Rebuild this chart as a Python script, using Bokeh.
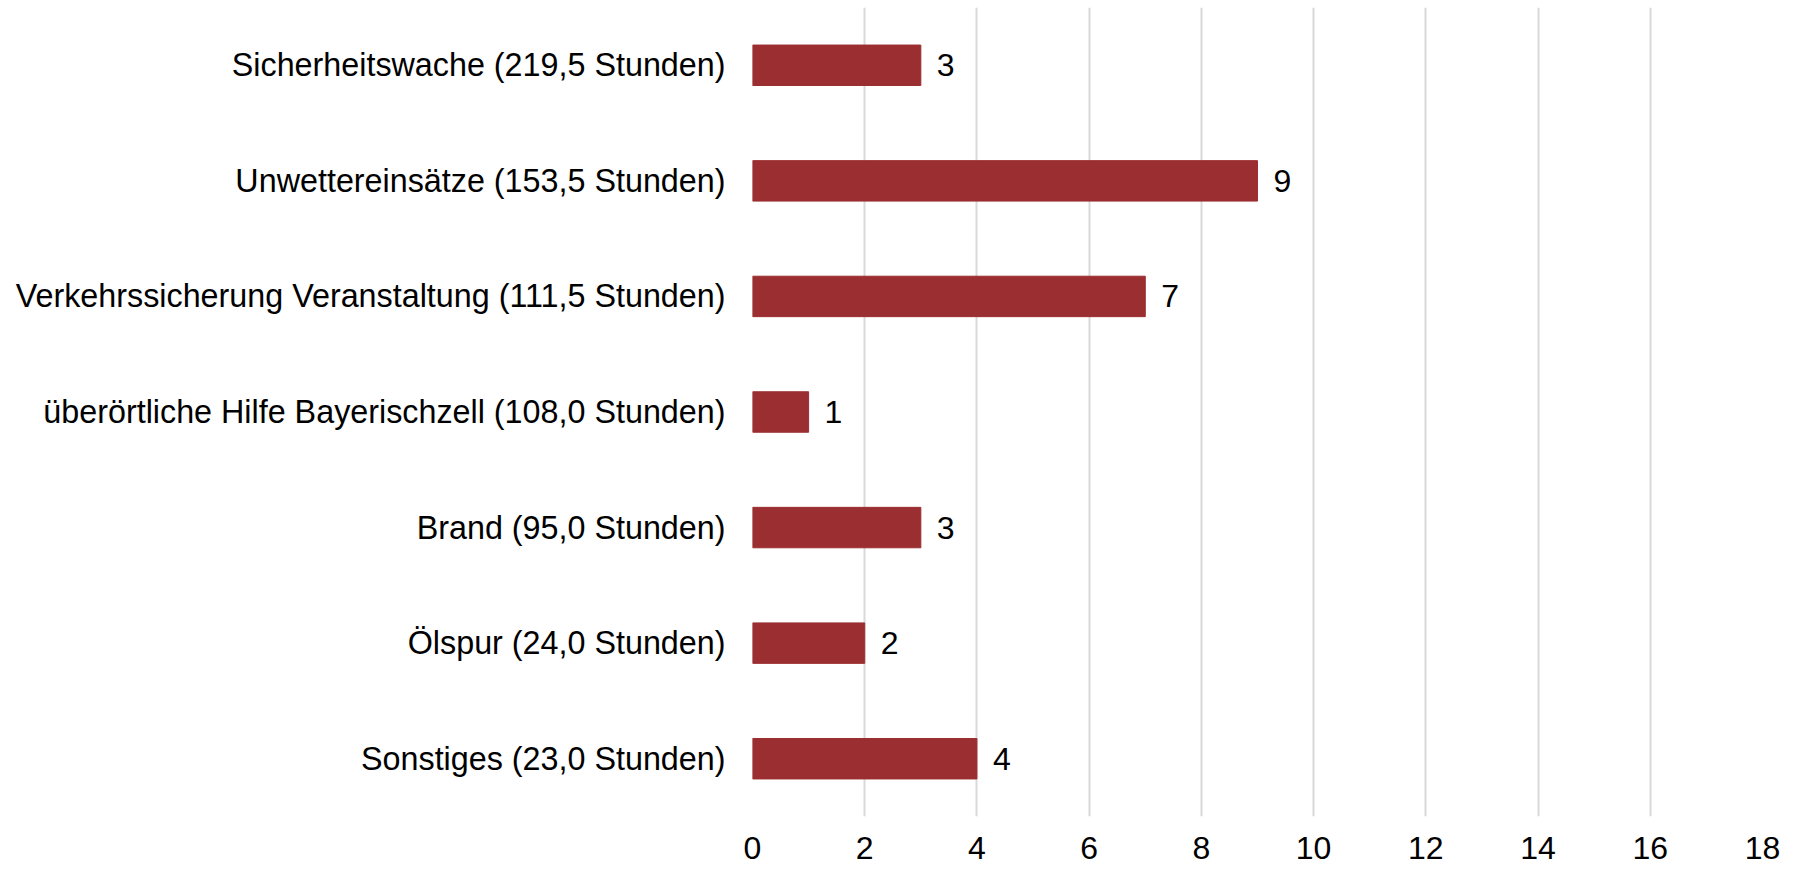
from bokeh.plotting import figure
from bokeh.models import ColumnDataSource, FactorRange, Range1d, FixedTicker
from bokeh.core.properties import value
from bokeh.embed import file_html
from bokeh.resources import INLINE

categories = [
    "Sicherheitswache (219,5 Stunden)",
    "Unwettereinsätze (153,5 Stunden)",
    "Verkehrssicherung Veranstaltung (111,5 Stunden)",
    "überörtliche Hilfe Bayerischzell (108,0 Stunden)",
    "Brand (95,0 Stunden)",
    "Ölspur (24,0 Stunden)",
    "Sonstiges (23,0 Stunden)",
]
counts = [3, 9, 7, 1, 3, 2, 4]
x_ticks = [0, 2, 4, 6, 8, 10, 12, 14, 16, 18]

FONT = "Liberation Sans"
FS = "32px"
src = ColumnDataSource(dict(cat=categories, n=counts, lbl=[str(v) for v in counts]))

p = figure(
    width=1799, height=869,
    y_range=FactorRange(*list(reversed(categories)), range_padding=0),
    x_range=Range1d(0, 18),
    output_backend="svg", toolbar_location=None,
    min_border_left=752, min_border_right=37, min_border_top=7, min_border_bottom=53,
)
p.y_range.factor_padding = 0
p.hbar(y="cat", right="n", left=0, height=0.35, source=src, color="#9b2e31")
p.text(x="n", y="cat", text="lbl", source=src, x_offset=16,
       text_baseline="middle", text_align="left",
       text_font=value(FONT), text_font_size=FS, text_color="#000000")

p.outline_line_color = None
p.ygrid.grid_line_color = None
p.xgrid.grid_line_color = "#d9d9d9"
p.xgrid.grid_line_width = 2
p.xaxis.ticker = FixedTicker(ticks=x_ticks)
for ax in (p.xaxis[0], p.yaxis[0]):
    ax.axis_line_color = None
    ax.major_tick_line_color = None
    ax.minor_tick_line_color = None
    ax.major_label_text_font = FONT
    ax.major_label_text_font_size = FS
    ax.major_label_text_color = "#000000"
p.yaxis.major_label_text_font_size = "32.3px"
p.xaxis.major_label_standoff = 14
p.yaxis.major_label_standoff = 21

open("out.html", "w").write(file_html(p, INLINE))
